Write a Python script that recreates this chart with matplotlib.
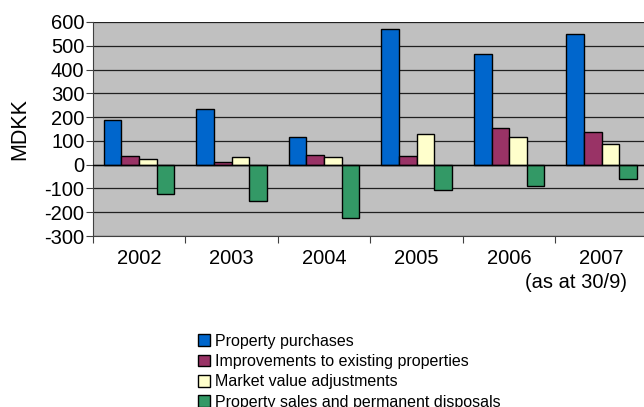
import numpy as np
import matplotlib.pyplot as plt

plt.rcParams['font.family'] = ['Liberation Sans', 'DejaVu Sans']
plt.rcParams['axes.unicode_minus'] = False

years = ['2002', '2003', '2004', '2005', '2006', '2007']
purchases = [190, 235, 115, 572, 465, 550]
improvements = [36, 11, 40, 38, 154, 137]
market_value = [24, 31, 32, 128, 115, 85]
disposals = [-122, -152, -222, -107, -88, -60]

series = [
    ('Property purchases', purchases, '#0066CC'),
    ('Improvements to existing properties', improvements, '#993366'),
    ('Market value adjustments', market_value, '#FFFFCC'),
    ('Property sales and permanent disposals', disposals, '#339966'),
]

fig = plt.figure(figsize=(6.44, 4.07), dpi=100)
ax = fig.add_axes([0.144, 0.42, 0.862, 0.526])
ax.set_facecolor('#C0C0C0')

x = np.arange(len(years))
w = 0.19
for i, (name, vals, col) in enumerate(series):
    ax.bar(x + (i - 1.5) * w, vals, w, color=col, edgecolor='black',
           linewidth=1.0, label=name, zorder=3)

ax.set_ylim(-300, 600)
ax.set_yticks(range(-300, 601, 100))
ax.yaxis.grid(True, color='#202020', linewidth=0.9, zorder=1)
ax.axhline(0, color='black', linewidth=1.0, zorder=4)
ax.set_xlim(-0.5, len(years) - 0.5)

# category ticks sit between the groups, labels in the middle
ax.set_xticks(np.arange(-0.5, len(years) + 0.5, 1))
ax.set_xticklabels([])
ax.set_xticks(x, minor=True)
ax.set_xticklabels(years, minor=True, fontsize=14.5)
ax.tick_params(axis='x', which='minor', length=0, pad=9)
ax.tick_params(axis='x', which='major', length=5, color='#404040')
ax.tick_params(axis='y', labelsize=14.5, length=5, pad=1, color='#404040')
ax.text(4.72, -497, '(as at 30/9)', ha='center', va='center', fontsize=14.5)

for s in ['top', 'right']:
    ax.spines[s].set_visible(False)
ax.spines['left'].set_color('#404040')
ax.spines['bottom'].set_color('#404040')
ax.set_ylabel('MDKK', fontsize=15.5, va='center')
ax.yaxis.set_label_coords(-0.132, 0.5)

fig.legend(loc='upper left', bbox_to_anchor=(0.295, 0.2), frameon=False,
           fontsize=11.5, handlelength=0.75, handleheight=0.75,
           handletextpad=0.3, labelspacing=0.34, borderpad=0)

fig.savefig('out.png', dpi=100)
